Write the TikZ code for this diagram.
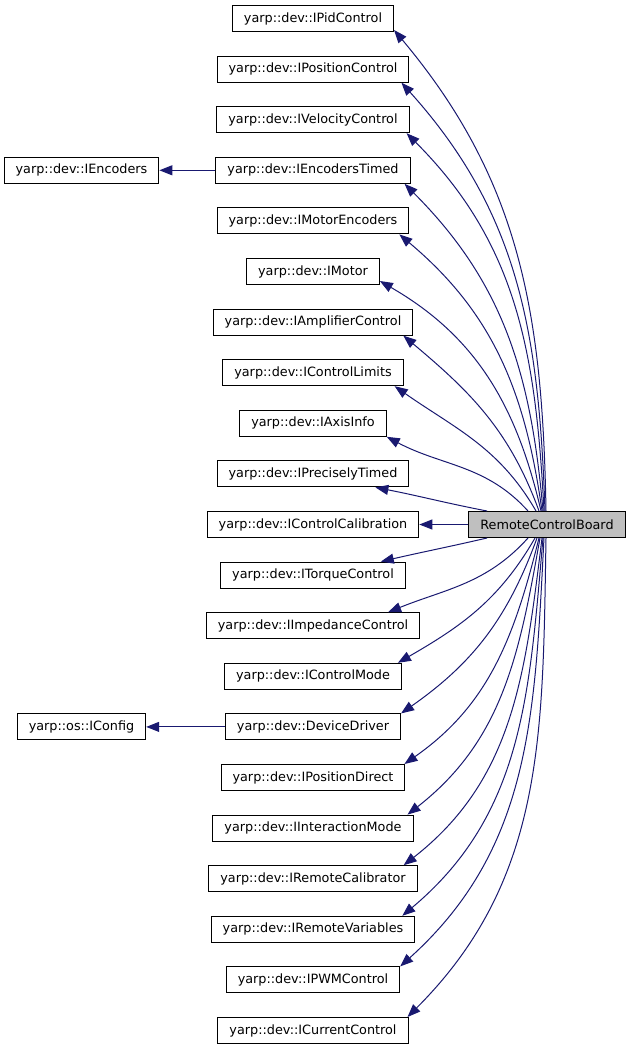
\documentclass[tikz,border=0pt]{standalone}
\usepackage{fontspec}
\setmainfont{DejaVu Sans}
\usetikzlibrary{arrows.meta,calc}
\definecolor{edgeblue}{HTML}{191970}
\definecolor{rcbgray}{HTML}{BFBFBF}
\begin{document}
\begin{tikzpicture}[x=1pt,y=1pt,
  cls/.style={draw=black, line width=1pt, inner xsep=11.5pt, inner ysep=0pt,
    minimum height=26pt, font=\fontsize{12.8}{15}\selectfont, anchor=center},
  main/.style={cls, fill=rcbgray},
  edge/.style={draw=edgeblue, line width=1pt, -{Triangle[length=13pt,width=10pt]}}]
\useasboundingbox (0,0) rectangle (632,-1051);
% column nodes
\node[cls] (n0)  at (313,-18.5)  {yarp::dev::IPidControl};
\node[cls] (n1)  at (313,-69.1)  {yarp::dev::IPositionControl};
\node[cls] (n2)  at (313,-119.7) {yarp::dev::IVelocityControl};
\node[cls] (n3)  at (313,-170.3) {yarp::dev::IEncodersTimed};
\node[cls] (n4)  at (313,-220.9) {yarp::dev::IMotorEncoders};
\node[cls] (n5)  at (313,-271.5) {yarp::dev::IMotor};
\node[cls] (n6)  at (313,-322.1) {yarp::dev::IAmplifierControl};
\node[cls] (n7)  at (313,-372.7) {yarp::dev::IControlLimits};
\node[cls] (n8)  at (313,-423.3) {yarp::dev::IAxisInfo};
\node[cls] (n9)  at (313,-473.9) {yarp::dev::IPreciselyTimed};
\node[cls] (n10) at (313,-524.5) {yarp::dev::IControlCalibration};
\node[cls] (n11) at (313,-575.1) {yarp::dev::ITorqueControl};
\node[cls] (n12) at (313,-625.7) {yarp::dev::IImpedanceControl};
\node[cls] (n13) at (313,-676.3) {yarp::dev::IControlMode};
\node[cls] (n14) at (313,-726.9) {yarp::dev::DeviceDriver};
\node[cls] (n15) at (313,-777.5) {yarp::dev::IPositionDirect};
\node[cls] (n16) at (313,-828.1) {yarp::dev::IInteractionMode};
\node[cls] (n17) at (313,-878.7) {yarp::dev::IRemoteCalibrator};
\node[cls] (n18) at (313,-929.3) {yarp::dev::IRemoteVariables};
\node[cls] (n19) at (313,-979.9) {yarp::dev::IPWMControl};
\node[cls] (n20) at (313,-1030.5) {yarp::dev::ICurrentControl};
% side nodes
\node[cls] (enc) at (81.5,-170.3) {yarp::dev::IEncoders};
\node[cls] (cfg) at (81.5,-726.9) {yarp::os::IConfig};
\node[main] (rcb) at (547,-524.5) {RemoteControlBoard};
% side edges
\draw[edge] (n3.west) -- (enc.east);
\draw[edge] (n14.west) -- (cfg.east);
\draw[edge] (rcb.west) -- (n10.east);
% upper edges
\draw[edge] ($(rcb.north)+(-1,0)$)  to[out=91,in=-50]  ($(n0.south east)+(0,2)$);
\draw[edge] ($(rcb.north)+(-2,0)$)  to[out=92,in=-48]  ($(n1.south east)+(-8,0)$);
\draw[edge] ($(rcb.north)+(-3,0)$)  to[out=93,in=-45]  ($(n2.south east)+(-3,0)$);
\draw[edge] ($(rcb.north)+(-4,0)$)  to[out=95,in=-45]  ($(n3.south east)+(-6,0)$);
\draw[edge] ($(rcb.north)+(-5,0)$)  to[out=98,in=-40]  ($(n4.south east)+(-10,0)$);
\draw[edge] ($(rcb.north)+(-6,0)$)  to[out=103,in=-30] ($(n5.south east)+(0,4)$);
\draw[edge] ($(rcb.north)+(-8,0)$)  to[out=110,in=-40] ($(n6.south east)+(-10,0)$);
\draw[edge] ($(rcb.north)+(-11,0)$) to[out=120,in=-35] ($(n7.south east)+(-9,0)$);
\draw[edge] ($(rcb.north)+(-19,0)$) to[out=132,in=-28] ($(n8.south east)+(0,0)$);
\draw[edge] ($(rcb.north)+(-60,0)$) to[out=169,in=-11] ($(n9.south east)+(-34,0)$);
% lower edges
\draw[edge] ($(rcb.south)+(-60,0)$) to[out=193,in=13] ($(n11.north east)+(-25,0)$);
\draw[edge] ($(rcb.south)+(-19,0)$) to[out=228,in=22] ($(n12.north east)+(-32,0)$);
\draw[edge] ($(rcb.south)+(-12,0)$) to[out=240,in=30] ($(n13.north east)+(-4,0)$);
\draw[edge] ($(rcb.south)+(-10,0)$) to[out=250,in=35] ($(n14.north east)+(0,0)$);
\draw[edge] ($(rcb.south)+(-8,0)$)  to[out=256,in=35] ($(n15.north east)+(-1,0)$);
\draw[edge] ($(rcb.south)+(-7,0)$)  to[out=260,in=38] ($(n16.north east)+(-6,0)$);
\draw[edge] ($(rcb.south)+(-5,0)$)  to[out=263,in=38] ($(n17.north east)+(-14,0)$);
\draw[edge] ($(rcb.south)+(-4,0)$)  to[out=265,in=40] ($(n18.north east)+(-13,0)$);
\draw[edge] ($(rcb.south)+(-3,0)$)  to[out=267,in=42] ($(n19.north east)+(0,0)$);
\draw[edge] ($(rcb.south)+(-1,0)$)  to[out=269,in=45] ($(n20.north east)+(-1,0)$);
\end{tikzpicture}
\end{document}
